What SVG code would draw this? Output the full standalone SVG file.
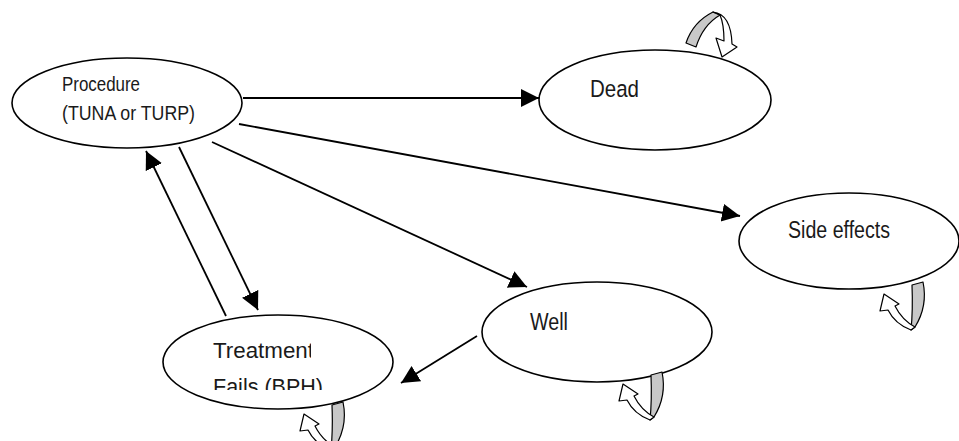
<svg xmlns="http://www.w3.org/2000/svg" width="959" height="441" viewBox="0 0 959 441">
  <style>
    .node ellipse { fill: #ffffff; stroke: #000000; stroke-width: 1.6; }
    .lbl { font-family: "Liberation Sans", Arial, sans-serif; fill: #1a1a1a; }
    .conn line { stroke: #000000; stroke-width: 1.8; fill: none; marker-end: url(#arrow); }
    .band { fill: #c8c8c8; stroke: #000000; stroke-width: 1.2; stroke-linejoin: round; }
    .head { fill: #ffffff; stroke: #000000; stroke-width: 1.2; stroke-linejoin: round; }
  </style>
  <defs>
    <marker id="arrow" markerUnits="userSpaceOnUse" markerWidth="20" markerHeight="20" refX="18" refY="9" orient="auto">
      <path d="M0,0 L18,9 L0,18 Z" fill="#000000"/>
    </marker>
    <g id="uloop">
      <path class="band" d="M0,0 L11,-3 Q16,21 3,42 L-1,45 Q1,25 0,0 Z" fill="#c8c8c8" stroke="#000000" stroke-width="1.2"/>
      <path class="head" d="M-1,45 Q-17,39 -24,25 L-32,26 L-28,9 L-13,19 L-17,21 Q-10,35 3,42 Z" fill="#ffffff" stroke="#000000" stroke-width="1.2"/>
    </g>
    <clipPath id="tclip">
      <rect x="200" y="330" width="111" height="40"/>
    </clipPath>
    <clipPath id="fclip">
      <rect x="200" y="360" width="140" height="30"/>
    </clipPath>
  </defs>

  <rect x="0" y="0" width="959" height="441" fill="#ffffff"/>

  <g id="connectors" class="conn">
    <line x1="243" y1="98" x2="539" y2="98"/>
    <line x1="239" y1="124" x2="740" y2="216"/>
    <line x1="212" y1="142" x2="527" y2="287"/>
    <line x1="179" y1="147" x2="258" y2="310"/>
    <line x1="226" y1="316" x2="146" y2="151"/>
    <line x1="477" y1="336" x2="401" y2="383"/>
  </g>

  <g id="procedure" class="node">
    <ellipse cx="127" cy="103" rx="115" ry="45"/>
    <text class="lbl" x="62" y="91" font-size="19.5" textLength="78" lengthAdjust="spacingAndGlyphs">Procedure</text>
    <text class="lbl" x="62" y="120" font-size="19.5" textLength="133" lengthAdjust="spacingAndGlyphs">(TUNA or TURP)</text>
  </g>

  <g id="dead" class="node">
    <ellipse cx="655" cy="100" rx="116" ry="50"/>
    <text class="lbl" x="590" y="97" font-size="24.5" textLength="49" lengthAdjust="spacingAndGlyphs">Dead</text>
  </g>

  <g id="side-effects" class="node">
    <ellipse cx="849" cy="241" rx="110" ry="48"/>
    <text class="lbl" x="788" y="238" font-size="23" textLength="102" lengthAdjust="spacingAndGlyphs">Side effects</text>
  </g>

  <g id="well" class="node">
    <ellipse cx="597" cy="332" rx="115" ry="50"/>
    <text class="lbl" x="530" y="330" font-size="23" textLength="38" lengthAdjust="spacingAndGlyphs">Well</text>
  </g>

  <g id="treatment-fails" class="node">
    <ellipse cx="278" cy="362" rx="115" ry="47"/>
    <text class="lbl" x="213" y="358" font-size="22.5" textLength="101" lengthAdjust="spacingAndGlyphs" clip-path="url(#tclip)">Treatment</text>
    <text class="lbl" x="213" y="394" font-size="22.5" textLength="110" lengthAdjust="spacingAndGlyphs" clip-path="url(#fclip)">Fails (BPH)</text>
  </g>

  <g id="self-loops">
    <g id="loop-dead">
      <path class="band" d="M686,43 Q693,22 713,12 L720,15 Q703,25 696,47 Z"/>
      <path class="head" d="M713,12 Q731,14 732,44 L737,47 L722,57 L716,38 L724,41 Q724,24 720,15 Z"/>
    </g>
    <use id="loop-side-effects" href="#uloop" x="912" y="285"/>
    <use id="loop-well" href="#uloop" x="651" y="375"/>
    <use id="loop-treatment" href="#uloop" x="332" y="405"/>
  </g>
</svg>
